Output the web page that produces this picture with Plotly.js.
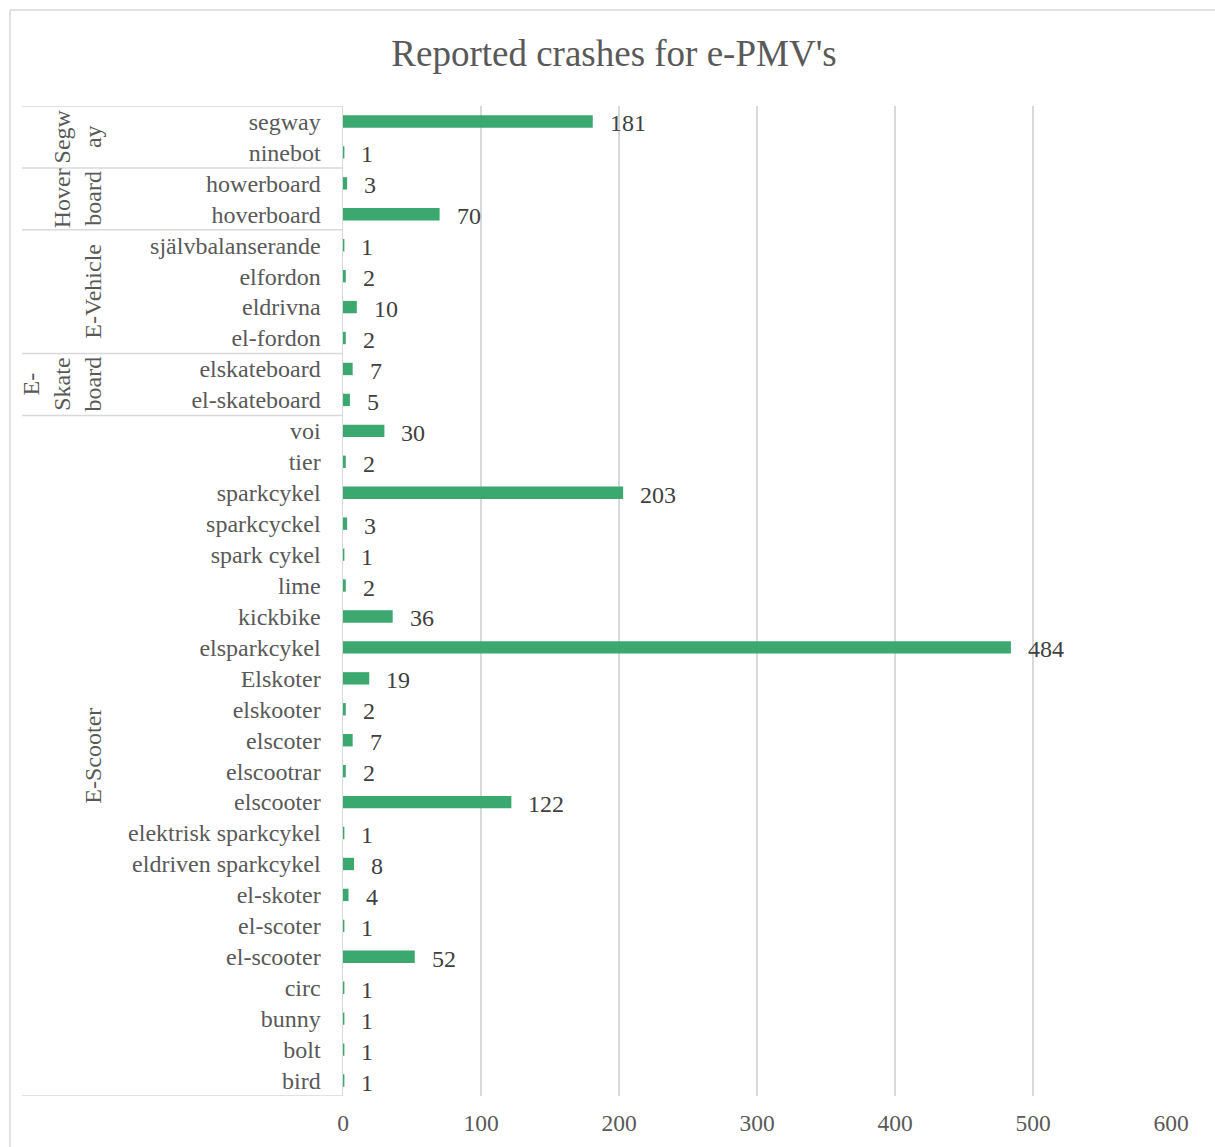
<!DOCTYPE html>
<html>
<head>
<meta charset="utf-8">
<script src="https://cdn.plot.ly/plotly-3.0.1.min.js"></script>
<style>html,body{margin:0;padding:0;background:#fff;}#chart{width:1215px;height:1147px;}</style>
</head>
<body>
<div id="chart"></div>
<script>
// Categories top to bottom
const categories = [
  "segway","ninebot",
  "howerboard","hoverboard",
  "självbalanserande","elfordon","eldrivna","el-fordon",
  "elskateboard","el-skateboard",
  "voi","tier","sparkcykel","sparkcyckel","spark cykel","lime","kickbike",
  "elsparkcykel","Elskoter","elskooter","elscoter","elscootrar","elscooter",
  "elektrisk sparkcykel","eldriven sparkcykel","el-skoter","el-scoter","el-scooter",
  "circ","bunny","bolt","bird"
];
const values = [
  181,1,
  3,70,
  1,2,10,2,
  7,5,
  30,2,203,3,1,2,36,
  484,19,2,7,2,122,
  1,8,4,1,52,
  1,1,1,1
];
// Groups: label and number of categories in each (top to bottom)
const groupLabels = ["Segw<br>ay","Hover<br>board","E-Vehicle","E-<br>Skate<br>board","E-Scooter"];
const groupSizes = [2,2,4,2,22];
const xTicks = [0,100,200,300,400,500,600];

const W = 1215, H = 1147;
const L = 343, R = 1171, T = 106, B = 1096;
const pw = R - L, ph = B - T;
const px2x = p => (p - L) / pw;
const py2y = p => (B - p) / ph;

const grey = "#595959";
const lineCol = "#d9d9d9";
const font = "Liberation Serif, Times New Roman, serif";
const fs = 24;

const shapes = [];
const annotations = [];
let start = 0;
const bounds = [-0.5];
groupSizes.forEach((n, i) => {
  const end = start + n;
  bounds.push(end - 0.5);
  annotations.push({
    xref: "paper", yref: "y",
    x: px2x(108), y: start + (n - 1) / 2,
    xanchor: "right", yanchor: "middle",
    text: groupLabels[i], textangle: -90, showarrow: false,
    font: {family: font, size: fs, color: grey}
  });
  start = end;
});
bounds.forEach(b => {
  shapes.push({type: "line", xref: "paper", yref: "y", x0: px2x(22), x1: 0, y0: b, y1: b,
    line: {color: lineCol, width: 1.5}});
});
// outer chart border (left and top)
shapes.push({type: "line", xref: "paper", yref: "paper", x0: px2x(10), x1: px2x(10), y0: py2y(10), y1: py2y(1160),
  line: {color: lineCol, width: 1.5}});
shapes.push({type: "line", xref: "paper", yref: "paper", x0: px2x(10), x1: px2x(1230), y0: py2y(10), y1: py2y(10),
  line: {color: lineCol, width: 1.5}});

// data labels
values.forEach((v, i) => {
  annotations.push({
    xref: "x", yref: "y", x: v, y: categories[i],
    text: String(v), showarrow: false,
    xanchor: "left", yanchor: "middle", xshift: 15, yshift: -2,
    font: {family: font, size: fs, color: "#404040"}
  });
});

const barTrace = {
  type: "bar", orientation: "h",
  x: values, y: categories,
  marker: {color: "#3aa86f"},
  width: 0.4,
  hoverinfo: "x+y"
};

const layout = {
  width: W, height: H,
  margin: {l: L, r: W - R, t: T, b: H - B, pad: 0},
  paper_bgcolor: "#fff", plot_bgcolor: "#fff",
  showlegend: false,
  title: {text: "Reported crashes for e-PMV's", font: {family: font, size: 37, color: grey},
    x: 614 / W, xanchor: "center", y: 1 - 53 / H, yanchor: "middle"},
  xaxis: {
    range: [0, 600], tickvals: xTicks, ticktext: xTicks.map(String),
    showgrid: true, gridcolor: lineCol, gridwidth: 1.5,
    zeroline: false, showline: false, ticks: "",
    tickfont: {family: font, size: 23.5, color: grey},
    ticklabelstandoff: 10, fixedrange: true
  },
  yaxis: {
    type: "category", categoryorder: "array", categoryarray: categories,
    range: [categories.length - 0.5, -0.5],
    showgrid: false, zeroline: false,
    showline: true, linecolor: lineCol, linewidth: 1.5,
    ticks: "", tickfont: {family: font, size: fs, color: grey},
    ticklabelstandoff: 16, fixedrange: true
  },
  shapes: shapes,
  annotations: annotations
};

Plotly.newPlot("chart", [barTrace], layout, {displayModeBar: false, staticPlot: true});
</script>
</body>
</html>
